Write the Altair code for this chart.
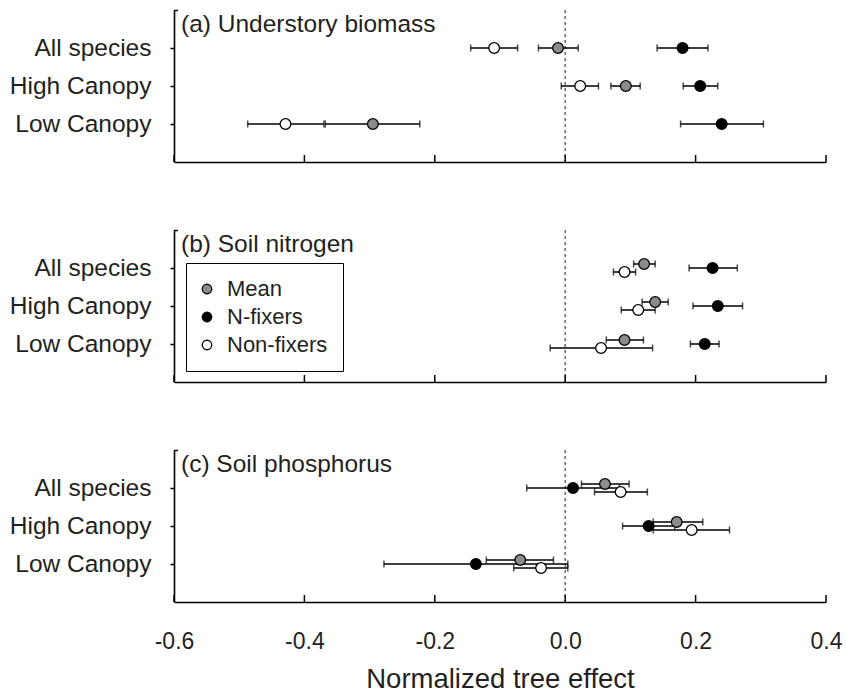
import altair as alt
import pandas as pd

ROWS = ["All species", "High Canopy", "Low Canopy"]
SERIES = ["Mean", "N-fixers", "Non-fixers"]
PANEL_TITLES = ["(a) Understory biomass", "(b) Soil nitrogen", "(c) Soil phosphorus"]
X_TICKS = [-0.6, -0.4, -0.2, 0.0, 0.2, 0.4]

# (a) Understory biomass
a_mean = [-0.011, 0.093, -0.295]
a_mean_lo = [-0.041, 0.070, -0.368]
a_mean_hi = [0.020, 0.115, -0.223]
a_fix = [0.180, 0.207, 0.240]
a_fix_lo = [0.141, 0.181, 0.177]
a_fix_hi = [0.219, 0.234, 0.304]
a_non = [-0.109, 0.023, -0.429]
a_non_lo = [-0.145, -0.006, -0.487]
a_non_hi = [-0.073, 0.051, -0.370]

# (b) Soil nitrogen
b_mean = [0.121, 0.138, 0.091]
b_mean_lo = [0.105, 0.118, 0.063]
b_mean_hi = [0.138, 0.158, 0.120]
b_fix = [0.226, 0.234, 0.214]
b_fix_lo = [0.190, 0.196, 0.192]
b_fix_hi = [0.264, 0.272, 0.236]
b_non = [0.091, 0.112, 0.055]
b_non_lo = [0.074, 0.086, -0.023]
b_non_hi = [0.108, 0.138, 0.134]

# (c) Soil phosphorus
c_mean = [0.061, 0.171, -0.069]
c_mean_lo = [0.025, 0.135, -0.121]
c_mean_hi = [0.098, 0.211, -0.018]
c_fix = [0.012, 0.128, -0.137]
c_fix_lo = [-0.059, 0.088, -0.278]
c_fix_hi = [0.083, 0.168, 0.004]
c_non = [0.085, 0.194, -0.037]
c_non_lo = [0.045, 0.135, -0.079]
c_non_hi = [0.126, 0.252, 0.004]

FONT = "Liberation Sans"
TEXT = "#231f20"
FILLS = ["#8c8c8c", "#000000", "#ffffff"]


def make_df(groups):
    recs = []
    for s, (est, lo, hi) in zip(SERIES, groups):
        for r, e, l, h in zip(ROWS, est, lo, hi):
            recs.append({"row": r, "series": s, "est": e, "lo": l, "hi": h})
    return pd.DataFrame(recs)


dfs = [
    make_df([(a_mean, a_mean_lo, a_mean_hi), (a_fix, a_fix_lo, a_fix_hi), (a_non, a_non_lo, a_non_hi)]),
    make_df([(b_mean, b_mean_lo, b_mean_hi), (b_fix, b_fix_lo, b_fix_hi), (b_non, b_non_lo, b_non_hi)]),
    make_df([(c_mean, c_mean_lo, c_mean_hi), (c_fix, c_fix_lo, c_fix_hi), (c_non, c_non_lo, c_non_hi)]),
]
OFFSETS = [
    {"Mean": 0, "N-fixers": 0, "Non-fixers": 0},
    {"Mean": -4, "N-fixers": 0, "Non-fixers": 4},
    {"Mean": -4, "N-fixers": 0, "Non-fixers": 4},
]

W, H = 652, 152
LABEL_EXPR = "datum.value < 0 ? '-' + format(-datum.value, '.1f') : format(datum.value, '.1f')"


def panel(i, bottom, legend):
    df = dfs[i]
    x_axis = alt.Axis(
        values=X_TICKS, labelExpr=LABEL_EXPR, grid=False, ticks=False, tickSize=0,
        domainColor="black", domainWidth=1.6, labelFlush=False,
        labels=bottom, labelFontSize=23, labelColor=TEXT, labelPadding=28, labelFont=FONT,
        titleFontSize=27.5, titleFont=FONT, titleColor=TEXT, titleFontWeight="normal", titlePadding=12,
    )
    x_scale = alt.Scale(domain=[-0.6, 0.4], nice=False, zero=False)
    x_title = "Normalized tree effect" if bottom else None
    y_enc = alt.Y(
        "row:N", sort=ROWS, title=None,
        scale=alt.Scale(type="point", domain=ROWS, padding=1),
        axis=alt.Axis(labelFontSize=24.5, labelColor=TEXT, labelFont=FONT, labelPadding=19,
                      tickSize=4, tickWidth=1.5, tickColor="black", domainColor="black",
                      domainWidth=1.6, grid=False),
    )
    fill_scale = alt.Scale(domain=SERIES, range=FILLS)
    if legend:
        leg = alt.Legend(
            orient="none", legendX=12, legendY=33, title=None, direction="vertical",
            strokeColor="black", fillColor="white", padding=15, labelFontSize=22,
            labelFont=FONT, labelColor=TEXT, symbolSize=90, symbolStrokeColor="black",
            symbolStrokeWidth=1.3, symbolType="circle", rowPadding=6,
            labelOffset=9, symbolOffset={"expr": "-5"},
        )
    else:
        leg = None

    zero = alt.Chart(pd.DataFrame({"z": [0.0]})).mark_rule(
        strokeDash=[3, 3], color="#555555", strokeWidth=1.3
    ).encode(x=alt.X("z:Q", scale=x_scale, axis=x_axis, title=x_title))

    ticks = alt.Chart(pd.DataFrame({"t": X_TICKS})).mark_rule(
        color="black", strokeWidth=1.5
    ).encode(x=alt.X("t:Q", scale=x_scale), y=alt.value(H - 7), y2=alt.value(H))

    cap = alt.Chart(pd.DataFrame({"c": [0]})).mark_rule(
        color="black", strokeWidth=1.5
    ).encode(x=alt.value(0), x2=alt.value(4), y=alt.value(0.5))

    layers = [zero, ticks, cap]
    for s in SERIES:
        off = OFFSETS[i][s]
        layers.append(
            alt.Chart(df).transform_filter(alt.datum.series == s).mark_rule(
                color="black", strokeWidth=1.5, yOffset=off
            ).encode(x=alt.X("lo:Q", scale=x_scale), x2="hi:Q", y=y_enc)
        )
        layers.append(
            alt.Chart(df).transform_filter(alt.datum.series == s).transform_fold(
                ["lo", "hi"], as_=["end", "value"]
            ).mark_tick(color="black", orient="vertical", size=7, thickness=1.5, yOffset=off)
            .encode(x=alt.X("value:Q", scale=x_scale), y=y_enc)
        )
    for s in SERIES:
        off = OFFSETS[i][s]
        layers.append(
            alt.Chart(df).transform_filter(alt.datum.series == s).mark_circle(
                size=115, stroke="black", strokeWidth=1.3, opacity=1, yOffset=off
            ).encode(
                x=alt.X("est:Q", scale=x_scale),
                y=y_enc,
                fill=alt.Fill("series:N", scale=fill_scale, legend=leg),
            )
        )
    label = alt.Chart(pd.DataFrame({"t": [PANEL_TITLES[i]]})).mark_text(
        align="left", baseline="alphabetic", fontSize=24.5, font=FONT, color=TEXT
    ).encode(text="t:N", x=alt.value(7), y=alt.value(22))
    layers.append(label)
    return alt.layer(*layers).properties(width=W, height=H)


chart = alt.vconcat(
    panel(0, False, False), panel(1, False, True), panel(2, True, False), spacing=66
).resolve_scale(fill="independent").resolve_legend(fill="independent").properties(
    padding={"left": 9, "top": 9, "right": 2, "bottom": 0}
).configure(font=FONT).configure_view(stroke=None)

chart.save("out.html", embed_options={"renderer": "svg", "actions": False})
